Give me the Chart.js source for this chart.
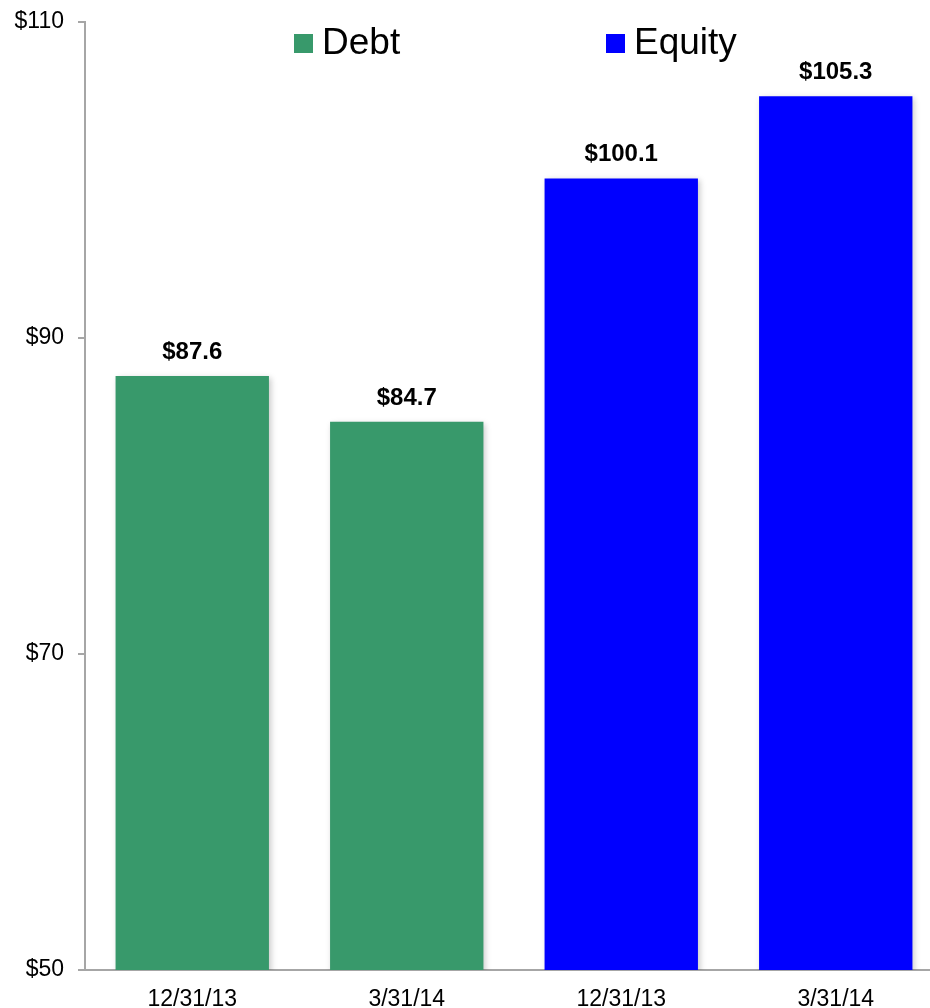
<!DOCTYPE html>
<html>
<head>
<meta charset="utf-8">
<script src="https://cdn.jsdelivr.net/npm/chart.js@4.4.1/dist/chart.umd.min.js"></script>
<style>
  html, body { margin: 0; padding: 0; background: #fff; overflow: hidden; }
  #wrap { position: relative; width: 945px; height: 1008px; }
</style>
</head>
<body>
<div id="wrap"><canvas id="capChart" width="945" height="1008"></canvas></div>
<script>
const periods = ['12/31/13', '3/31/14', '12/31/13', '3/31/14'];
const debtValues = [87.6, 84.7, null, null];
const equityValues = [null, null, 100.1, 105.3];
const yTicks = [50, 70, 90, 110];

const FONT = '"Liberation Sans", Arial, sans-serif';

// value labels above each bar
const barLabels = {
    id: 'barLabels',
    afterDatasetsDraw(chart) {
        const ctx = chart.ctx;
        ctx.save();
        ctx.font = 'bold 24px ' + FONT;
        ctx.fillStyle = '#000';
        ctx.textAlign = 'center';
        ctx.textBaseline = 'alphabetic';
        chart.data.datasets.forEach((ds, i) => {
            chart.getDatasetMeta(i).data.forEach((bar, j) => {
                const v = ds.data[j];
                if (v == null) return;
                ctx.fillText('$' + v.toFixed(1), bar.x, bar.y - 17);
            });
        });
        ctx.restore();
    }
};

// soft shadow under the bars
const barShadow = {
    id: 'barShadow',
    beforeDatasetsDraw(chart) {
        const ctx = chart.ctx;
        ctx.save();
        ctx.shadowColor = 'rgba(0,0,0,0.22)';
        ctx.shadowBlur = 6;
        ctx.shadowOffsetX = 2;
        ctx.shadowOffsetY = 2;
    },
    afterDatasetsDraw(chart) {
        chart.ctx.restore();
    }
};

// legend drawn inside the plot, across the top
const topLegend = {
    id: 'topLegend',
    afterDraw(chart) {
        const ctx = chart.ctx;
        const spots = [294, 606];
        ctx.save();
        ctx.font = '37px ' + FONT;
        ctx.textBaseline = 'middle';
        ctx.textAlign = 'left';
        chart.data.datasets.forEach((ds, i) => {
            const x = spots[i];
            ctx.fillStyle = ds.backgroundColor;
            ctx.fillRect(x, 34, 19, 19);
            ctx.fillStyle = '#000';
            ctx.fillText(ds.label, x + 28, 44);
        });
        ctx.restore();
    }
};

new Chart(document.getElementById('capChart'), {
    type: 'bar',
    data: {
        labels: periods,
        datasets: [
            { label: 'Debt', data: debtValues, backgroundColor: '#38996b' },
            { label: 'Equity', data: equityValues, backgroundColor: '#0000ff' }
        ]
    },
    options: {
        responsive: false,
        maintainAspectRatio: false,
        animation: false,
        layout: { padding: { top: 22, right: 2, left: 0, bottom: 0 } },
        datasets: {
            bar: { barPercentage: 0.715, categoryPercentage: 1 }
        },
        plugins: {
            legend: { display: false },
            tooltip: { enabled: false }
        },
        scales: {
            x: {
                stacked: true,
                grid: { display: false },
                border: { display: true, color: '#a6a6a6', width: 2 },
                ticks: {
                    color: '#000',
                    font: { family: FONT, size: 23 },
                    padding: 8,
                    autoSkip: false,
                    maxRotation: 0
                },
                afterFit(scale) { scale.height = 38; }
            },
            y: {
                min: 50,
                max: 110,
                afterBuildTicks(scale) {
                    scale.ticks = yTicks.map(v => ({ value: v }));
                },
                grid: {
                    drawOnChartArea: false,
                    drawTicks: true,
                    tickLength: 7,
                    color: '#a6a6a6',
                    lineWidth: 2
                },
                border: { display: true, color: '#a6a6a6', width: 2 },
                ticks: {
                    color: '#000',
                    font: { family: FONT, size: 23 },
                    padding: 14,
                    callback: v => '$' + v
                },
                afterFit(scale) {
                    scale.width = 85;
                    scale.paddingTop = 0;
                    scale.paddingBottom = 0;
                }
            }
        }
    },
    plugins: [barShadow, barLabels, topLegend]
});
</script>
</body>
</html>
